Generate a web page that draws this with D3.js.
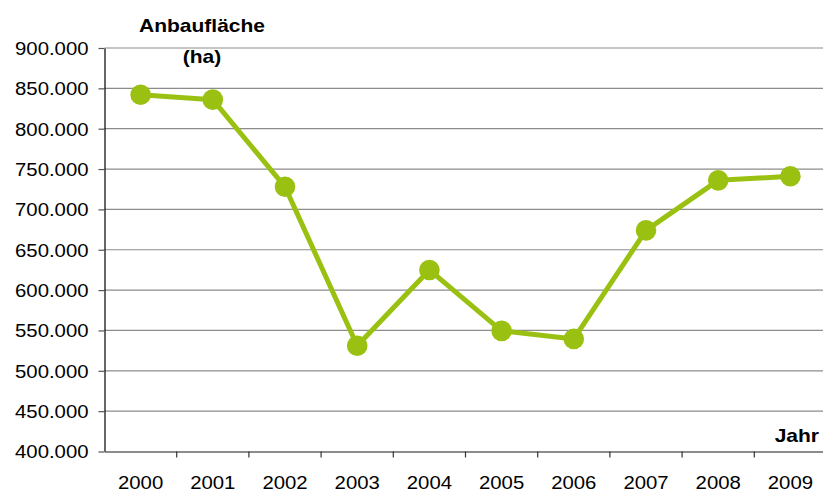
<!DOCTYPE html>
<html>
<head>
<meta charset="utf-8">
<script src="https://cdn.jsdelivr.net/npm/d3@7"></script>
<style>
  html, body { margin: 0; padding: 0; background: #fff; }
  svg { display: block; font-family: "Liberation Sans", Arial, sans-serif; }
</style>
</head>
<body>
<svg id="chart" width="823" height="491"></svg>
<script>
// Anbaufläche in ha, 2000-2009
const years = ["2000", "2001", "2002", "2003", "2004", "2005", "2006", "2007", "2008", "2009"];
const area = [842000, 836000, 728000, 531000, 625000, 549500, 539500, 674000, 736000, 741000];
const yTicks = [400000, 450000, 500000, 550000, 600000, 650000, 700000, 750000, 800000, 850000, 900000];

const svg = d3.select("#chart");
const W = 823, H = 491;
const plotLeft = 104.5, plotTop = 48, plotBottom = 451.5, band = 72.2;
const stretch = 1.13; // text in the picture is a bit wider than tall

const x = d3.scaleBand().domain(years).range([plotLeft, plotLeft + band * years.length]);
const y = d3.scaleLinear().domain([400000, 900000]).range([plotBottom, plotTop]);

const fmt = d => d3.format(",")(d).replace(/,/g, ".");

// gridlines
svg.append("g")
  .selectAll("line")
  .data(yTicks.slice(1))
  .join("line")
  .attr("x1", plotLeft).attr("x2", W)
  .attr("y1", d => y(d)).attr("y2", d => y(d))
  .attr("stroke", "#8c8c8c")
  .attr("stroke-width", 1.2);

// y axis
const yAxis = svg.append("g")
  .attr("transform", `translate(${plotLeft},0)`)
  .call(d3.axisLeft(y).tickValues(yTicks).tickFormat(fmt).tickSize(6).tickSizeOuter(0));
yAxis.select(".domain").attr("stroke", "#000").attr("stroke-width", 1.2);
yAxis.selectAll(".tick line").attr("stroke", "#555").attr("stroke-width", 1.2);
yAxis.selectAll(".tick text")
  .attr("x", 0).attr("dy", "0.35em")
  .attr("transform", `translate(-16,0) scale(${stretch},1)`)
  .attr("font-size", 18).attr("fill", "#000");

// x axis
const xAxis = svg.append("g")
  .attr("transform", `translate(0,${plotBottom})`)
  .call(d3.axisBottom(x).tickSize(0).tickSizeOuter(0));
xAxis.select(".domain").attr("stroke", "#666").attr("stroke-width", 1.5);
xAxis.selectAll(".tick text")
  .attr("y", 0).attr("dy", 0)
  .attr("transform", `translate(0,37) scale(${stretch},1)`)
  .attr("font-size", 18).attr("fill", "#000");

// category separator ticks
svg.append("g")
  .selectAll("line")
  .data(years.slice(1))
  .join("line")
  .attr("x1", d => x(d)).attr("x2", d => x(d))
  .attr("y1", plotBottom).attr("y2", plotBottom + 6)
  .attr("stroke", "#333")
  .attr("stroke-width", 1.2);

// line + markers
const cx = d => x(d) + x.bandwidth() / 2;
const pts = years.map((d, i) => [cx(d), y(area[i])]);

svg.append("path")
  .attr("d", d3.line()(pts))
  .attr("fill", "none")
  .attr("stroke", "#9ac111")
  .attr("stroke-width", 5)
  .attr("stroke-linejoin", "round");

svg.append("g")
  .selectAll("circle")
  .data(pts)
  .join("circle")
  .attr("cx", d => d[0]).attr("cy", d => d[1])
  .attr("r", 10.3)
  .attr("fill", "#9ac111");

// titles
const bold = (txt, tx, ty, anchor) => svg.append("text")
  .attr("transform", `translate(${tx},${ty}) scale(1.2,1)`)
  .attr("text-anchor", anchor)
  .attr("font-size", 17.5)
  .attr("font-weight", "bold")
  .text(txt);

bold("Anbaufläche", 202, 32, "middle");
bold("(ha)", 202, 63, "middle");
bold("Jahr", 819, 442, "end");
</script>
</body>
</html>
